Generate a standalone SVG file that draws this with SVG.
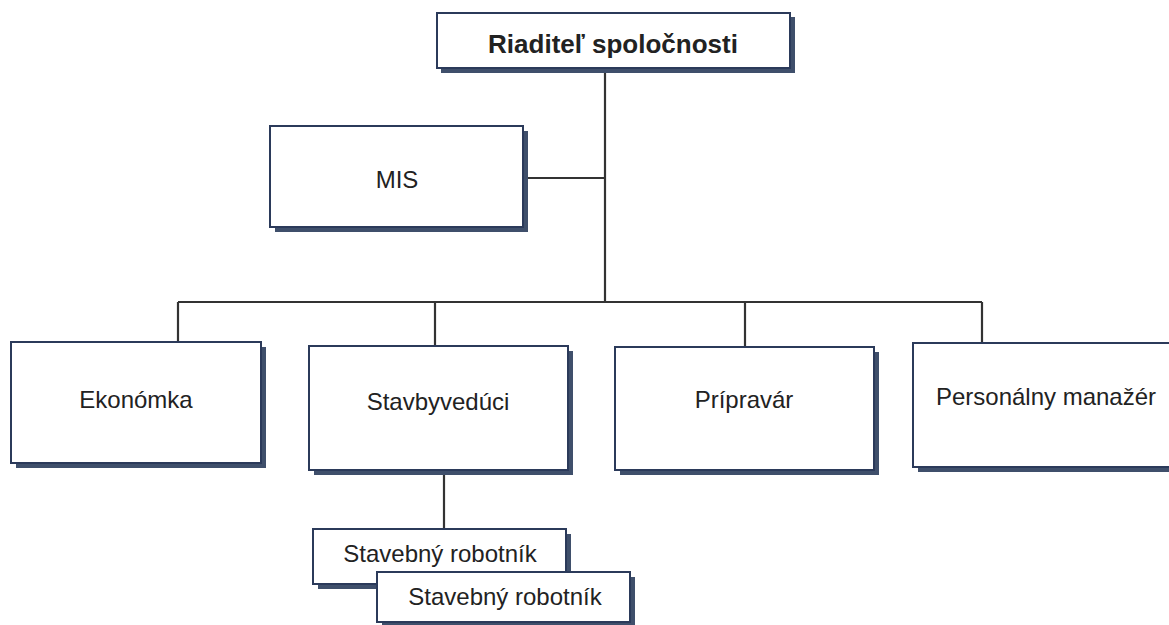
<svg xmlns="http://www.w3.org/2000/svg" width="1169" height="625" viewBox="0 0 1169 625">
<style>
.box{fill:#fff;stroke:#2b3a5a;stroke-width:2}
.sh{fill:#3f4f6b}
.t{font-family:"Liberation Sans",Arial,sans-serif;font-size:24px;fill:#222;text-anchor:middle}
.b{font-weight:bold;font-size:26px}
.c{stroke:#333;stroke-width:2.2;fill:none}
</style>
<rect width="1169" height="625" fill="#fff"/>
<g id="connectors">
<path class="c" d="M605 68V302M527 178H605M178 302H982M178 302V342M435 302V346M745 302V347M982 302V343M444 470V529"/>
</g>
<g id="riaditel">
<rect class="sh" x="441" y="17" width="354" height="56"/>
<rect class="box" x="437" y="13" width="353" height="55"/>
<text class="t b" x="613" y="53">Riaditeľ spoločnosti</text>
</g>
<g id="mis">
<rect class="sh" x="275" y="131" width="253" height="101"/>
<rect class="box" x="270" y="126" width="253" height="101"/>
<text class="t" x="397" y="188">MIS</text>
</g>
<g id="ekonomka">
<rect class="sh" x="16" y="347" width="250" height="121"/>
<rect class="box" x="11" y="342" width="250" height="121"/>
<text class="t" x="136" y="408">Ekonómka</text>
</g>
<g id="stavbyveduci">
<rect class="sh" x="314" y="351" width="259" height="124"/>
<rect class="box" x="309" y="346" width="259" height="124"/>
<text class="t" x="438" y="410">Stavbyvedúci</text>
</g>
<g id="pripravar">
<rect class="sh" x="620" y="352" width="259" height="123"/>
<rect class="box" x="615" y="347" width="259" height="123"/>
<text class="t" x="744" y="408">Prípravár</text>
</g>
<g id="personalny">
<rect class="sh" x="918" y="348" width="270" height="124"/>
<rect class="box" x="913" y="343" width="270" height="124"/>
<text class="t" x="1046" y="405">Personálny manažér</text>
</g>
<g id="robotnik1">
<rect class="sh" x="318" y="534" width="253" height="55"/>
<rect class="box" x="313" y="529" width="253" height="55"/>
<text class="t" x="440" y="562">Stavebný robotník</text>
</g>
<g id="robotnik2">
<rect class="sh" x="382" y="577" width="253" height="50"/>
<rect class="box" x="377" y="572" width="253" height="50"/>
<text class="t" x="505" y="605">Stavebný robotník</text>
</g>
</svg>
